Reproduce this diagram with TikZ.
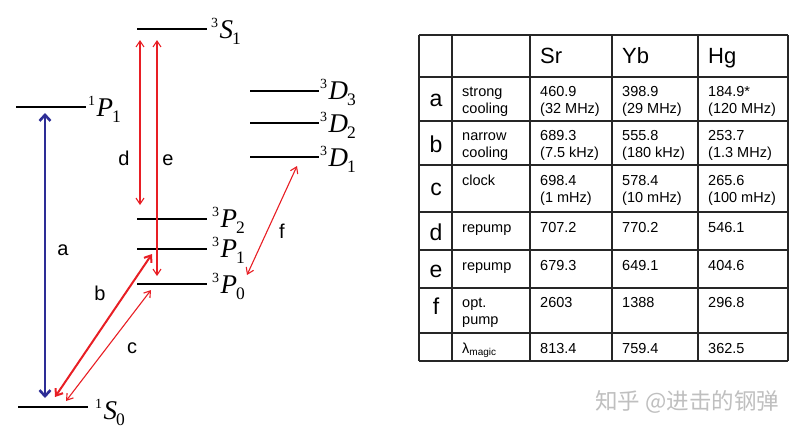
\documentclass[tikz,border=0pt]{standalone}
\usepackage{fontspec}
\setmainfont{Liberation Sans}
\newfontfamily\tms{Liberation Serif}
\newfontfamily\cjk{Noto Sans CJK SC}
\usetikzlibrary{arrows.meta}
\definecolor{dblue}{RGB}{45,45,150}
\definecolor{lred}{RGB}{232,30,36}
\newcommand\lvlab[3]{{\tms\raisebox{10.5pt}{\fontsize{14}{14}\selectfont #1}\kern1.5pt{\fontsize{27}{27}\selectfont\itshape #2}\kern-1pt\raisebox{-6.5pt}{\fontsize{17.5}{17.5}\selectfont #3}}}
\newcommand\cell[2]{\begin{tabular}[t]{@{}l@{}}#1\\#2\end{tabular}}
\begin{document}
\begin{tikzpicture}[x=1pt,y=-1pt,
  level/.style={line width=1.6pt,black},
  lab/.style={anchor=base west,inner sep=0pt},
  tlab/.style={anchor=base,inner sep=0pt,font=\fontsize{20}{20}\selectfont},
  blu/.style={dblue,line width=2.6pt,{Straight Barb[length=6pt,width=11pt]}-{Straight Barb[length=6pt,width=11pt]}},
  redthin/.style={lred,line width=1.1pt,{Straight Barb[length=6pt,width=8pt]}-{Straight Barb[length=6pt,width=8pt]}},
  redthick/.style={lred,line width=2pt,{Straight Barb[length=6pt,width=9pt]}-{Straight Barb[length=6pt,width=9pt]}},
  grid/.style={line width=1.5pt,black!85},
  tx/.style={anchor=base west,inner sep=0pt,font=\fontsize{14.5}{17.5}\selectfont},
  hd/.style={anchor=base west,inner sep=0pt,font=\fontsize{22}{22}\selectfont},
  rl/.style={anchor=base,inner sep=0pt,font=\fontsize{23}{23}\selectfont}]
\useasboundingbox (0,0) rectangle (810,432);

% ---------- levels ----------
\coordinate (S0a) at (18,407);  \coordinate (S0b) at (88,407);
\coordinate (P1sa) at (16,107); \coordinate (P1sb) at (86,107);
\coordinate (S1a) at (137,29);  \coordinate (S1b) at (207,29);
\coordinate (P2a) at (137,219); \coordinate (P2b) at (207,219);
\coordinate (P1a) at (137,249); \coordinate (P1b) at (207,249);
\coordinate (P0a) at (137,284); \coordinate (P0b) at (207,284);
\coordinate (D3a) at (250,91);  \coordinate (D3b) at (319,91);
\coordinate (D2a) at (250,123); \coordinate (D2b) at (319,123);
\coordinate (D1a) at (250,157); \coordinate (D1b) at (319,157);
\foreach \l in {S0,P1s,S1,P2,P1,P0,D3,D2,D1} \draw[level] (\l a) -- (\l b);

\node[lab] (labS0) at (95,419) {\lvlab{1}{S}{0}};
\node[lab] (labP1s) at (88,116) {\lvlab{1}{P}{1}};
\node[lab] (labS1) at (211,38) {\lvlab{3}{S}{1}};
\node[lab] (labP2) at (212,227) {\lvlab{3}{P}{2}};
\node[lab] (labP1) at (212,257) {\lvlab{3}{P}{1}};
\node[lab] (labP0) at (212,293) {\lvlab{3}{P}{0}};
\node[lab] (labD3) at (320,99) {\lvlab{3}{D}{3}};
\node[lab] (labD2) at (320,132) {\lvlab{3}{D}{2}};
\node[lab] (labD1) at (320,166) {\lvlab{3}{D}{1}};

% ---------- transitions ----------
\coordinate (aT) at (45,113); \coordinate (aB) at (45,398);
\coordinate (dT) at (140,40); \coordinate (dB) at (140,205);
\coordinate (eT) at (157,40); \coordinate (eB) at (157,276);
\coordinate (bB) at (55,397); \coordinate (bT) at (152,254);
\coordinate (cB) at (66,401); \coordinate (cT) at (151,290);
\coordinate (fT) at (297,166); \coordinate (fB) at (247,275);
\draw[blu] (aB) -- (aT);
\draw[redthin] (dB) -- (dT);
\draw[redthin] (eB) -- (eT);
\draw[redthick] (bB) -- (bT);
\draw[redthin] (cB) -- (cT);
\draw[redthin] (fB) -- (fT);

\node[tlab] (la) at (63,255) {a};
\node[tlab] (lb) at (100,300) {b};
\node[tlab] (lc) at (132,353) {c};
\node[tlab] (ld) at (124,165) {d};
\node[tlab] (le) at (168,165) {e};
\node[tlab] (lf) at (282,238) {f};

% ---------- table ----------
\foreach \x in {419,452,530,612,698,788} \draw[grid] (\x,35) -- (\x,361);
\foreach \y in {35,77,121,165,212,250,288,333,361} \draw[grid] (419,\y) -- (788,\y);

\node[hd] (hSr) at (540,63) {Sr};
\node[hd] (hYb) at (622,63) {Yb};
\node[hd] (hHg) at (708,63) {Hg};

\node[rl] (ra) at (436,106) {a};
\node[rl] (rb) at (436,152) {b};
\node[rl] (rc) at (436,195) {c};
\node[rl] (rd) at (436,240) {d};
\node[rl] (re) at (436,277) {e};
\node[rl] (rf) at (436,314) {f};

\node[tx] (ta1) at (462,96) {\cell{strong}{cooling}};
\node[tx] (ta2) at (540,96) {\cell{460.9}{(32 MHz)}};
\node[tx] (ta3) at (622,96) {\cell{398.9}{(29 MHz)}};
\node[tx] (ta4) at (708,96) {\cell{184.9*}{(120 MHz)}};

\node[tx] (tb1) at (462,140) {\cell{narrow}{cooling}};
\node[tx] (tb2) at (540,140) {\cell{689.3}{(7.5 kHz)}};
\node[tx] (tb3) at (622,140) {\cell{555.8}{(180 kHz)}};
\node[tx] (tb4) at (708,140) {\cell{253.7}{(1.3 MHz)}};

\node[tx] (tc1) at (462,185) {clock};
\node[tx] (tc2) at (540,185) {\cell{698.4}{(1 mHz)}};
\node[tx] (tc3) at (622,185) {\cell{578.4}{(10 mHz)}};
\node[tx] (tc4) at (708,185) {\cell{265.6}{(100 mHz)}};

\node[tx] (td1) at (462,232) {repump};
\node[tx] (td2) at (540,232) {707.2};
\node[tx] (td3) at (622,232) {770.2};
\node[tx] (td4) at (708,232) {546.1};

\node[tx] (te1) at (462,270) {repump};
\node[tx] (te2) at (540,270) {679.3};
\node[tx] (te3) at (622,270) {649.1};
\node[tx] (te4) at (708,270) {404.6};

\node[tx] (tf1) at (462,307) {\cell{opt.}{pump}};
\node[tx] (tf2) at (540,307) {2603};
\node[tx] (tf3) at (622,307) {1388};
\node[tx] (tf4) at (708,307) {296.8};

\node[tx] (tg1) at (462,353) {λ\raisebox{-2.5pt}{\fontsize{10}{10}\selectfont magic}};
\node[tx] (tg2) at (540,353) {813.4};
\node[tx] (tg3) at (622,353) {759.4};
\node[tx] (tg4) at (708,353) {362.5};

% ---------- watermark ----------
\node[lab,text=black!25,font=\fontsize{22.5}{22.5}\selectfont\cjk] (wm) at (595,409) {知乎 @进击的钢弹};
\end{tikzpicture}
\end{document}
